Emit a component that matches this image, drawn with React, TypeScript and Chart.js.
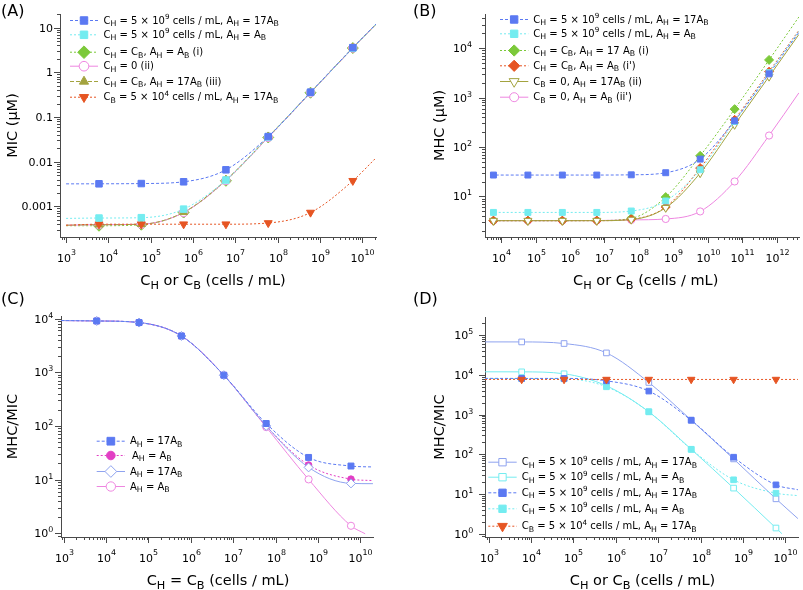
import React, { useEffect, useRef } from 'react';
import { Chart, registerables } from 'chart.js';
Chart.register(...registerables);

const FONT = '"DejaVu Sans", sans-serif';
const AXIS = '#4a4a4a';

const BLUE = '#5b79f2';
const CYAN = '#74ecf0';
const GREEN = '#7cc93a';
const PINK = '#ee86e0';
const OLIVE = '#a3a33f';
const ORANGE = '#e65523';
const MAGENTA = '#e23fc4';
const LBLUE = '#8fa3ef';

// ---------------- Panel A : MIC ----------------
const A_X = [1e3, 6e3, 6e4, 6e5, 6e6, 6e7, 6e8, 6e9, 2.1e10];
const A_BLUE = [0.0032, 0.00321, 0.00325, 0.00356, 0.0066, 0.0366, 0.36, 3.57, 12];
const A_CYAN = [0.00054, 0.00055, 0.00056, 0.00087, 0.0039, 0.036, 0.355, 3.5, 11.8];
const A_GREEN = [0.00037, 0.00037, 0.00039, 0.00073, 0.00375, 0.035, 0.35, 3.5, 11.8];
const A_PINK = [0.00038, 0.00039, 0.0004, 0.00073, 0.0038, 0.035, 0.35, 3.5, 11.8];
const A_OLIVE = [0.00038, 0.00039, 0.0004, 0.00074, 0.0039, 0.036, 0.355, 3.55, 11.8];
const A_RED = [0.00038, 0.0004, 0.0004, 0.0004, 0.0004, 0.000426, 0.00073, 0.00375, 0.0121];
const A_LEGEND = [
  'C_{H} = 5 × 10^{9} cells / mL, A_{H} = 17A_{B}',
  'C_{H} = 5 × 10^{9} cells / mL, A_{H} = A_{B}',
  'C_{H} = C_{B}, A_{H} = A_{B} (i)',
  'C_{H} = 0 (ii)',
  'C_{H} = C_{B}, A_{H} = 17A_{B} (iii)',
  'C_{B} = 5 × 10^{4} cells / mL, A_{H} = 17A_{B}',
];
const A_YLABELS = ['0.001', '0.01', '0.1', '1', '10'];

// ---------------- Panel B : MHC ----------------
const B_X = [5e3, 6e3, 6e4, 6e5, 6e6, 6e7, 6e8, 6e9, 6e10, 6e11, 4.4e12];
const B_BLUE = [27.1, 27.1, 27.1, 27.1, 27.1, 27.4, 30.2, 57, 339, 3030, 21000];
const B_CYAN = [4.75, 4.75, 4.75, 4.75, 4.75, 5.07, 8.1, 34.7, 330, 3200, 22000];
const B_GREEN = [3.23, 3.23, 3.23, 3.23, 3.25, 3.6, 9.7, 66.5, 585, 5800, 43000];
const B_ORANGE = [3.23, 3.23, 3.23, 3.23, 3.23, 3.45, 6.1, 37.5, 355, 3360, 23000];
const B_OLIVE = [3.23, 3.23, 3.23, 3.23, 3.23, 3.4, 5.9, 29.7, 283, 2670, 19000];
const B_PINK = [3.23, 3.23, 3.23, 3.23, 3.25, 3.35, 3.5, 4.97, 20.1, 171, 1250];
const B_LEGEND = [
  'C_{H} = 5 × 10^{9} cells / mL, A_{H} = 17A_{B}',
  'C_{H} = 5 × 10^{9} cells / mL, A_{H} = A_{B}',
  'C_{H} = C_{B}, A_{H} = 17 A_{B} (i)',
  "C_{H} = C_{B}, A_{H} = A_{B} (i')",
  'C_{B} = 0, A_{H} = 17A_{B} (ii)',
  "C_{B} = 0, A_{H} = A_{B} (ii')",
];

// ---------------- Panel C : MHC/MIC, C_H = C_B ----------------
const C_X = [870, 6e3, 6e4, 6e5, 6e6, 6e7, 6e8, 6e9, 1.98e10];
const C_X_PINK = [870, 6e3, 6e4, 6e5, 6e6, 6e7, 6e8, 6e9, 1.3e10];
const C_BLUE_SQ = [9200, 9030, 8430, 4740, 881, 111, 25.9, 17.9, 17.2];
const C_MAG = [9200, 9030, 8430, 4740, 881, 100, 18.7, 10.2, 9.6];
const C_DIAM = [9200, 9030, 8430, 4740, 881, 100, 16.9, 8.5, 8.4];
const C_PINK = [9200, 9030, 8430, 4740, 881, 95, 10.1, 1.38, 0.98];
const C_LEGEND = ['A_{H} = 17A_{B}', '\u2009A_{H} = A_{B}', 'A_{H} = 17A_{B}', 'A_{H} = A_{B}'];

// ---------------- Panel D : MHC/MIC ----------------
const D_X = [820, 6e3, 6e4, 6e5, 6e6, 6e7, 6e8, 6e9, 1.98e10];
const D_X_CYAN_OPEN = [820, 6e3, 6e4, 6e5, 6e6, 6e7, 6e8, 6e9, 8.3e9];
const D_LBLUE_OPEN = [68000, 67900, 61900, 35900, 6470, 731, 76.6, 7.57, 2.4];
const D_CYAN_OPEN = [12000, 11970, 10700, 5320, 1180, 134, 14.1, 1.39, 1.0];
const D_BLUE_FILL = [8200, 8170, 8170, 7110, 3920, 720, 84.6, 17.0, 12.8];
const D_CYAN_FILL = [8100, 8100, 8000, 5030, 1180, 134, 22.8, 10.5, 9.1];
const D_ORANGE = [7700, 7700, 7700, 7700, 7700, 7700, 7700, 7700, 7700];
const D_LEGEND = [
  'C_{H} = 5 × 10^{9} cells / mL, A_{H} = 17A_{B}',
  'C_{H} = 5 × 10^{9} cells / mL, A_{H} = A_{B}',
  'C_{H} = 5 × 10^{9} cells / mL, A_{H} = 17A_{B}',
  'C_{H} = 5 × 10^{9} cells / mL, A_{H} = A_{B}',
  'C_{B} = 5 × 10^{4} cells / mL, A_{H} = 17A_{B}',
];

// ---------------- rich text helpers ----------------
type Seg = { t: string; k: number };
function parseRich(s: string): Seg[] {
  const out: Seg[] = [];
  let buf = '';
  let i = 0;
  while (i < s.length) {
    const c = s[i];
    if ((c === '_' || c === '^') && s[i + 1] === '{') {
      if (buf) { out.push({ t: buf, k: 0 }); buf = ''; }
      const j = s.indexOf('}', i);
      out.push({ t: s.slice(i + 2, j), k: c === '_' ? 1 : 2 });
      i = j + 1;
    } else { buf += c; i++; }
  }
  if (buf) out.push({ t: buf, k: 0 });
  return out;
}

function drawRich(ctx: CanvasRenderingContext2D, text: string, x: number, y: number, size: number,
  align: string, supRaise = 0.45, color = '#000') {
  const segs = parseRich(text);
  const fs = (k: number) => (k === 0 ? size : k === 1 ? size * 0.78 : size * 0.72);
  let w = 0;
  const widths = segs.map((s) => {
    ctx.font = `${fs(s.k)}px ${FONT}`;
    const m = ctx.measureText(s.t).width;
    w += m;
    return m;
  });
  let cx = align === 'left' ? x : align === 'right' ? x - w : x - w / 2;
  const base = y + size * 0.36;
  ctx.fillStyle = color;
  ctx.textBaseline = 'alphabetic';
  ctx.textAlign = 'left';
  segs.forEach((s, i) => {
    ctx.font = `${fs(s.k)}px ${FONT}`;
    const dy = s.k === 1 ? size * 0.25 : s.k === 2 ? -size * supRaise : 0;
    ctx.fillText(s.t, cx, base + dy);
    cx += widths[i];
  });
}

function drawMarker(ctx: CanvasRenderingContext2D, style: string, rot: number, x: number, y: number,
  r: number, fill: string, stroke: string) {
  ctx.beginPath();
  if (style === 'circle') ctx.arc(x, y, r, 0, Math.PI * 2);
  else if (style === 'rect') { const s = r * Math.SQRT1_2; ctx.rect(x - s, y - s, 2 * s, 2 * s); }
  else if (style === 'rectRot') { ctx.moveTo(x, y - r); ctx.lineTo(x + r, y); ctx.lineTo(x, y + r); ctx.lineTo(x - r, y); ctx.closePath(); }
  else {
    let a = (rot * Math.PI) / 180;
    for (let k = 0; k < 3; k++) {
      const px = x + Math.sin(a) * r, py = y - Math.cos(a) * r;
      if (k === 0) ctx.moveTo(px, py); else ctx.lineTo(px, py);
      a += (2 * Math.PI) / 3;
    }
    ctx.closePath();
  }
  ctx.fillStyle = fill;
  ctx.fill();
  ctx.lineWidth = 1;
  ctx.setLineDash([]);
  ctx.strokeStyle = stroke;
  ctx.stroke();
}

function logTicks(lo: number, hi: number) {
  const ticks: any[] = [];
  for (let e = Math.floor(lo); e <= Math.ceil(hi); e++) {
    for (let m = 1; m <= 9; m++) {
      const lv = e + Math.log10(m);
      if (lv < lo - 1e-9 || lv > hi + 1e-9) continue;
      ticks.push({ value: m * Math.pow(10, e), major: m === 1 });
    }
  }
  return ticks;
}

// ---------------- panel specs ----------------
interface Series { xs: number[]; ys: number[]; color: string; line?: string; dash: number[]; style: string; rot?: number; fill: boolean; r: number; order: number; }
interface Panel {
  w: number; h: number; left: number; top: number;
  area: { l: number; t: number; r: number; b: number };
  xr: number[]; yr: number[];
  series: Series[];
  legend: string[]; legY: number[]; leg: { x0: number; x1: number; tx: number; ms: number };
  letter: { text: string; x: number; y: number };
  xTitle: { text: string; x: number; y: number };
  yTitle: { text: string; x: number; y: number };
  xLabDy: number; yLabGap: number; yLabel: (e: number) => string;
}

const pow = (e: number) => `10^{${e}}`;

const PANEL_A: Panel = {
  w: 400, h: 295, left: 0, top: 0,
  area: { l: 60, t: 14, r: 376, b: 237 },
  xr: [2.856, 10.326], yr: [-3.684, 1.306],
  series: [
    { xs: A_X, ys: A_BLUE, color: BLUE, dash: [3, 2], style: 'rect', fill: true, r: 4.6, order: 0 },
    { xs: A_X, ys: A_CYAN, color: CYAN, dash: [2, 2], style: 'rect', fill: true, r: 4.6, order: 1 },
    { xs: A_X, ys: A_GREEN, color: GREEN, dash: [2, 2], style: 'rectRot', fill: true, r: 5.5, order: 5 },
    { xs: A_X, ys: A_PINK, color: PINK, dash: [], style: 'circle', fill: false, r: 4.2, order: 4 },
    { xs: A_X, ys: A_OLIVE, color: OLIVE, dash: [4, 2], style: 'triangle', fill: true, r: 4.6, order: 3 },
    { xs: A_X, ys: A_RED, color: ORANGE, dash: [2, 2], style: 'triangle', rot: 180, fill: true, r: 4.6, order: 2 },
  ],
  legend: A_LEGEND, legY: [20, 34.3, 51.7, 65.7, 81, 96.7],
  leg: { x0: 70, x1: 98, tx: 103.5, ms: 1.15 },
  letter: { text: '(A)', x: 1, y: 10 },
  xTitle: { text: 'C_{H} or C_{B} (cells / mL)', x: 213, y: 280 },
  yTitle: { text: 'MIC (μM)', x: 12, y: 125.5 },
  xLabDy: 21.5, yLabGap: 7, yLabel: (e) => A_YLABELS[e + 3] ?? '',
};

const PANEL_B: Panel = {
  w: 403, h: 295, left: 400, top: 0,
  area: { l: 85, t: 14, r: 399, b: 237 },
  xr: [3.533, 12.647], yr: [0.179, 4.693],
  series: [
    { xs: B_X, ys: B_BLUE, color: BLUE, dash: [3, 2], style: 'rect', fill: true, r: 4.2, order: 0 },
    { xs: B_X, ys: B_CYAN, color: CYAN, dash: [2, 2], style: 'rect', fill: true, r: 4.2, order: 1 },
    { xs: B_X, ys: B_GREEN, color: GREEN, dash: [2, 2], style: 'rectRot', fill: true, r: 4.5, order: 4 },
    { xs: B_X, ys: B_ORANGE, color: ORANGE, dash: [2, 2], style: 'rectRot', fill: true, r: 4.5, order: 3 },
    { xs: B_X, ys: B_OLIVE, color: OLIVE, dash: [], style: 'triangle', rot: 180, fill: false, r: 4.6, order: 2 },
    { xs: B_X, ys: B_PINK, color: PINK, dash: [], style: 'circle', fill: false, r: 3.6, order: 5 },
  ],
  legend: B_LEGEND, legY: [19, 33.3, 50, 65.3, 81, 96.7],
  leg: { x0: 100, x1: 128.3, tx: 133.3, ms: 1.25 },
  letter: { text: '(B)', x: 13, y: 10 },
  xTitle: { text: 'C_{H} or C_{B} (cells / mL)', x: 245.7, y: 280 },
  yTitle: { text: 'MHC (μM)', x: 38.5, y: 125.5 },
  xLabDy: 21.5, yLabGap: 13, yLabel: pow,
};

const PANEL_C: Panel = {
  w: 400, h: 310, left: 0, top: 280,
  area: { l: 61, t: 36, r: 373, b: 257 },
  xr: [2.936, 10.298], yr: [-0.069, 4.048],
  series: [
    { xs: C_X, ys: C_BLUE_SQ, color: BLUE, dash: [3, 2], style: 'rect', fill: true, r: 4.2, order: 0 },
    { xs: C_X, ys: C_MAG, color: MAGENTA, dash: [2, 2], style: 'circle', fill: true, r: 3.3, order: 2 },
    { xs: C_X, ys: C_DIAM, color: LBLUE, dash: [], style: 'rectRot', fill: false, r: 4.5, order: 1 },
    { xs: C_X_PINK, ys: C_PINK, color: PINK, dash: [], style: 'circle', fill: false, r: 3.6, order: 3 },
  ],
  legend: C_LEGEND, legY: [160.7, 175, 191, 206],
  leg: { x0: 96.7, x1: 125, tx: 130, ms: 1.3 },
  letter: { text: '(C)', x: 1, y: 18.5 },
  xTitle: { text: 'C_{H} = C_{B} (cells / mL)', x: 218, y: 300 },
  yTitle: { text: 'MHC/MIC', x: 12, y: 146.5 },
  xLabDy: 21.5, yLabGap: 7.7, yLabel: pow,
};

const PANEL_D: Panel = {
  w: 403, h: 310, left: 400, top: 280,
  area: { l: 85, t: 37, r: 398, b: 257 },
  xr: [2.913, 10.298], yr: [-0.083, 5.46],
  series: [
    { xs: D_X, ys: D_LBLUE_OPEN, color: LBLUE, dash: [], style: 'rect', fill: false, r: 4.0, order: 3 },
    { xs: D_X_CYAN_OPEN, ys: D_CYAN_OPEN, color: CYAN, dash: [], style: 'rect', fill: false, r: 4.0, order: 4 },
    { xs: D_X, ys: D_BLUE_FILL, color: BLUE, dash: [3, 2], style: 'rect', fill: true, r: 4.0, order: 1 },
    { xs: D_X, ys: D_CYAN_FILL, color: CYAN, dash: [2, 2], style: 'rect', fill: true, r: 4.0, order: 2 },
    { xs: D_X, ys: D_ORANGE, color: ORANGE, dash: [2, 2], style: 'triangle', rot: 180, fill: true, r: 4.3, order: 0 },
  ],
  legend: D_LEGEND, legY: [181.7, 196.7, 212.3, 228.3, 245.7],
  leg: { x0: 88.3, x1: 116.7, tx: 121.7, ms: 1.3 },
  letter: { text: '(D)', x: 13, y: 18.5 },
  xTitle: { text: 'C_{H} or C_{B} (cells / mL)', x: 242.5, y: 300 },
  yTitle: { text: 'MHC/MIC', x: 38.5, y: 147 },
  xLabDy: 21.5, yLabGap: 11.7, yLabel: pow,
};

function makeDeco(p: Panel) {
  return {
    id: 'deco',
    afterDraw(chart: any) {
      const ctx = chart.ctx as CanvasRenderingContext2D;
      const a = chart.chartArea;
      const xs = chart.scales.x, ys = chart.scales.y;
      ctx.save();
      ctx.strokeStyle = AXIS;
      ctx.lineWidth = 1;
      ctx.setLineDash([]);
      for (const t of xs.ticks) {
        const px = Math.round(xs.getPixelForValue(t.value)) + 0.5;
        if (px < a.left - 1 || px > a.right + 1) continue;
        const len = t.major ? 6 : 3;
        ctx.strokeStyle = AXIS;
        ctx.beginPath(); ctx.moveTo(px, a.bottom); ctx.lineTo(px, a.bottom + len); ctx.stroke();
        if (t.major) drawRich(ctx, pow(Math.round(Math.log10(t.value))), px, a.bottom + p.xLabDy, 11, 'center', 0.72);
      }
      for (const t of ys.ticks) {
        const py = Math.round(ys.getPixelForValue(t.value)) + 0.5;
        if (py < a.top - 1 || py > a.bottom + 1) continue;
        const len = t.major ? 6 : 3;
        ctx.strokeStyle = AXIS;
        ctx.beginPath(); ctx.moveTo(a.left, py); ctx.lineTo(a.left - len, py); ctx.stroke();
        if (t.major) drawRich(ctx, p.yLabel(Math.round(Math.log10(t.value))), a.left - p.yLabGap, py, 11, 'right', 0.5);
      }
      // titles
      drawRich(ctx, p.letter.text, p.letter.x, p.letter.y, 16, 'left');
      drawRich(ctx, p.xTitle.text, p.xTitle.x, p.xTitle.y, 14.5, 'center');
      ctx.save();
      ctx.translate(p.yTitle.x, p.yTitle.y);
      ctx.rotate(-Math.PI / 2);
      drawRich(ctx, p.yTitle.text, 0, 0, 14.5, 'center');
      ctx.restore();
      // legend
      p.legend.forEach((text, i) => {
        const s = p.series[i];
        const y = p.legY[i];
        ctx.strokeStyle = s.line ?? s.color;
        ctx.lineWidth = 1;
        ctx.setLineDash(s.dash);
        ctx.beginPath(); ctx.moveTo(p.leg.x0, y + 0.5); ctx.lineTo(p.leg.x1, y + 0.5); ctx.stroke();
        ctx.setLineDash([]);
        drawMarker(ctx, s.style, s.rot ?? 0, (p.leg.x0 + p.leg.x1) / 2, y + 0.5, s.r * p.leg.ms,
          s.fill ? s.color : '#ffffff', s.color);
        drawRich(ctx, text, p.leg.tx, y, 10, 'left');
      });
      ctx.restore();
    },
  };
}

function makeConfig(p: Panel): any {
  return {
    type: 'line',
    data: {
      datasets: p.series.map((s) => ({
        data: s.xs.map((x, i) => ({ x, y: s.ys[i] })),
        borderColor: s.line ?? s.color,
        borderWidth: 1,
        borderDash: s.dash,
        pointStyle: s.style,
        pointRotation: s.rot ?? 0,
        pointRadius: (c: any) => (c.dataIndex === 0 || c.dataIndex === s.xs.length - 1 ? 0 : s.r),
        pointBackgroundColor: s.fill ? s.color : '#ffffff',
        pointBorderColor: s.color,
        pointBorderWidth: 1,
        cubicInterpolationMode: 'monotone',
        fill: false,
        order: s.order,
      })),
    },
    options: {
      animation: false,
      responsive: false,
      maintainAspectRatio: false,
      events: [],
      layout: { padding: { left: 0, top: p.area.t, right: p.w - p.area.r, bottom: 0 } },
      plugins: { legend: { display: false }, tooltip: { enabled: false } },
      scales: {
        x: {
          type: 'logarithmic', position: 'bottom',
          min: Math.pow(10, p.xr[0]), max: Math.pow(10, p.xr[1]),
          afterBuildTicks: (sc: any) => { sc.ticks = logTicks(p.xr[0], p.xr[1]); },
          afterFit: (sc: any) => { sc.height = p.h - p.area.b; },
          ticks: { display: false },
          grid: { display: false },
          border: { display: true, color: AXIS, width: 1 },
        },
        y: {
          type: 'logarithmic', position: 'left',
          min: Math.pow(10, p.yr[0]), max: Math.pow(10, p.yr[1]),
          afterBuildTicks: (sc: any) => { sc.ticks = logTicks(p.yr[0], p.yr[1]); },
          afterFit: (sc: any) => { sc.width = p.area.l; },
          ticks: { display: false },
          grid: { display: false },
          border: { display: true, color: AXIS, width: 1 },
        },
      },
    },
    plugins: [makeDeco(p)],
  };
}

function PanelChart({ spec }: { spec: Panel }) {
  const ref = useRef<HTMLCanvasElement>(null);
  useEffect(() => {
    const chart = new Chart(ref.current as HTMLCanvasElement, makeConfig(spec));
    return () => chart.destroy();
  }, [spec]);
  return (
    <canvas ref={ref} width={spec.w} height={spec.h}
      style={{ position: 'absolute', left: spec.left, top: spec.top, width: spec.w, height: spec.h }} />
  );
}

export default function App() {
  return (
    <div style={{ position: 'absolute', left: 0, top: 0, width: 803, height: 590, background: '#ffffff', overflow: 'hidden' }}>
      <PanelChart spec={PANEL_A} />
      <PanelChart spec={PANEL_B} />
      <PanelChart spec={PANEL_C} />
      <PanelChart spec={PANEL_D} />
    </div>
  );
}
